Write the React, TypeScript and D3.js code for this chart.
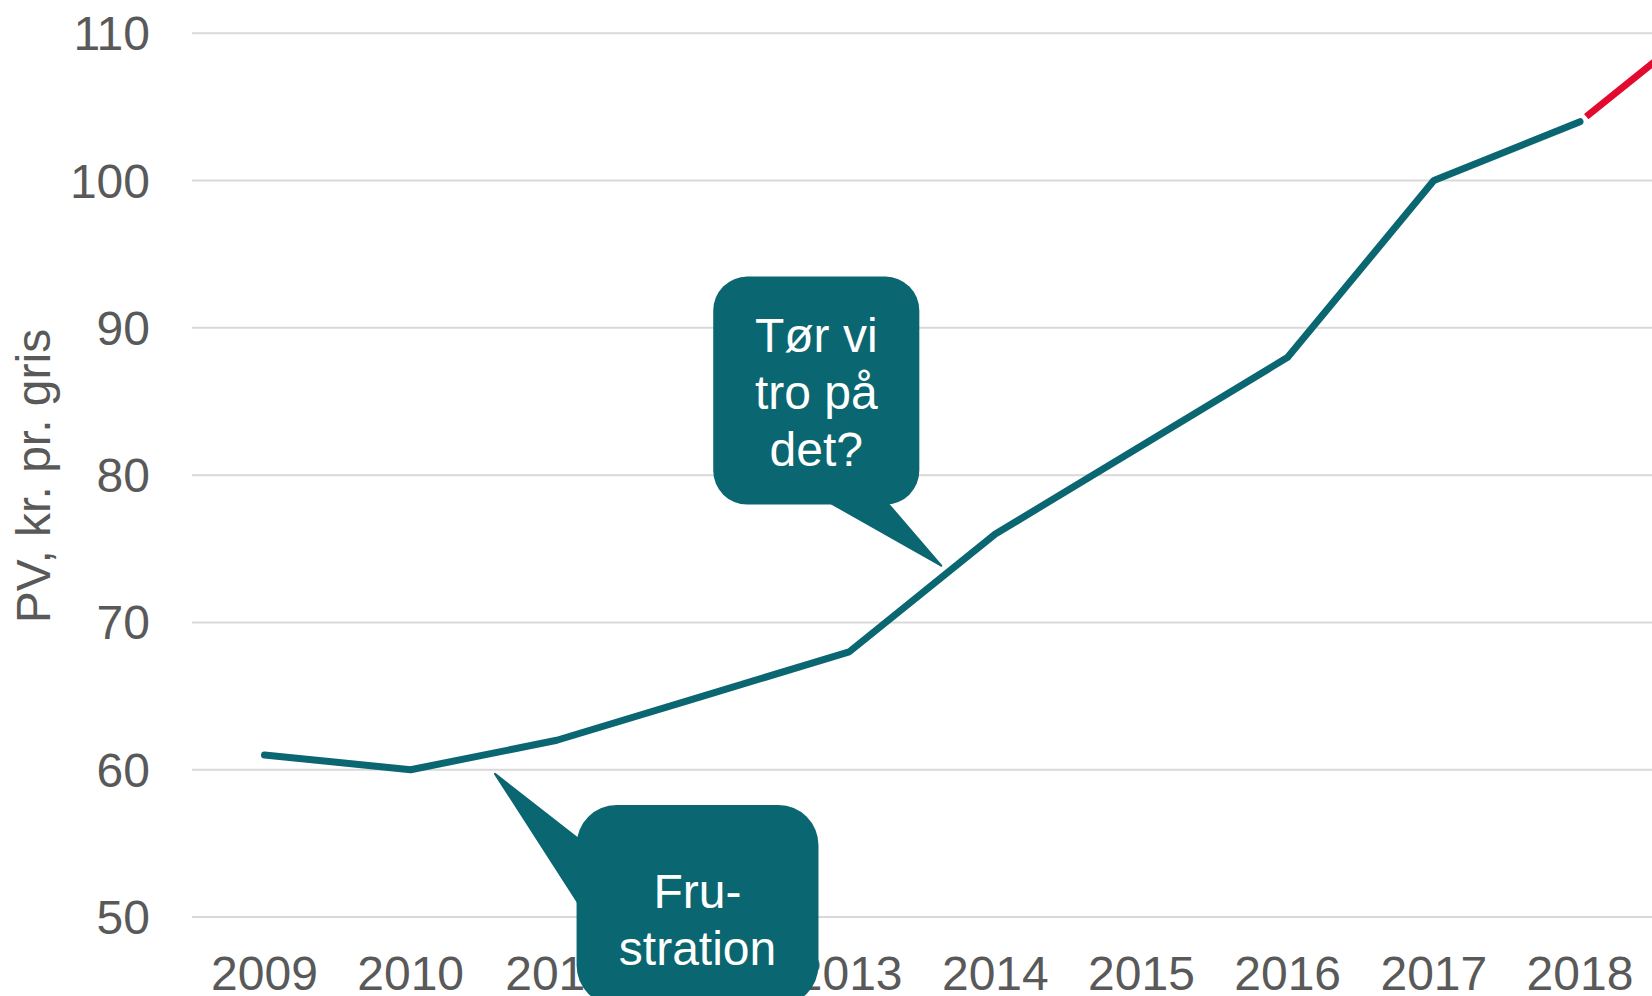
import React from "react";
import * as d3 from "d3";

const years = [2009, 2010, 2011, 2012, 2013, 2014, 2015, 2016, 2017, 2018];
const pvValues = [61, 60, 62, 65, 68, 76, 82, 88, 100, 104];
const forecastYears = [2018, 2019];
const forecastValues = [104, 112];
const yTicks = [50, 60, 70, 80, 90, 100, 110];
const yTitle = "PV, kr. pr. gris";
const callout1Lines = ["Tør vi", "tro på", "det?"];
const callout2Lines = ["Fru-", "stration"];

const W = 1652;
const H = 996;
const TEAL = "#0A6670";
const RED = "#E30A2F";
const GRAY = "#595959";
const FONT = "'Liberation Sans', Arial, Helvetica, sans-serif";
const FS = 48;

export default function App() {
  const x = d3.scaleLinear().domain([2009, 2018]).range([264.5, 1580]);
  const y = d3.scaleLinear().domain([50, 110]).range([917, 33.3]);

  const line = d3
    .line<[number, number]>()
    .x((d) => x(d[0]))
    .y((d) => y(d[1]));

  const mainPts: [number, number][] = years.map((yr, i) => [yr, pvValues[i]]);
  const fcPts: [number, number][] = forecastYears.map((yr, i) => [yr, forecastValues[i]]);

  // Callout 1 (pointing at the 2013-2014 segment)
  const c1 = { x0: x(2012.07), x1: x(2013.48), y0: y(93.48), y1: y(78) };
  const c1Tail = [
    [x(2012.88), c1.y1 - 1],
    [x(2013.63), y(73.85)],
    [x(2013.265), c1.y1 - 1],
  ];
  // Callout 2 (pointing at the 2010-2011 segment)
  const c2 = { x0: x(2011.135), x1: x(2012.79), y0: y(57.6), y1: y(44) };
  const c2Tail = [
    [c2.x0 + 1, y(55.35)],
    [x(2010.577), y(59.72)],
    [c2.x0 + 1, y(51.02)],
  ];

  return (
    <svg
      width={W}
      height={H}
      style={{ position: "absolute", left: 0, top: 0, display: "block", background: "#fff" }}
      fontFamily={FONT}
    >
      {/* gridlines */}
      {yTicks.map((t) => (
        <line key={t} x1={192} x2={W} y1={y(t)} y2={y(t)} stroke="#D9D9D9" strokeWidth={2} />
      ))}
      {/* y tick labels */}
      {yTicks.map((t) => (
        <text
          key={"yl" + t}
          x={150}
          y={y(t) + 17}
          textAnchor="end"
          fontSize={FS}
          fill={GRAY}
        >
          {t}
        </text>
      ))}
      {/* x tick labels */}
      {years.map((yr) => (
        <text key={"xl" + yr} x={x(yr)} y={990} textAnchor="middle" fontSize={FS} fill={GRAY}>
          {yr}
        </text>
      ))}
      {/* y title */}
      <text
        transform={`translate(50, ${476}) rotate(-90)`}
        textAnchor="middle"
        fontSize={FS}
        fill={GRAY}
      >
        {yTitle}
      </text>
      {/* main line */}
      <path
        d={line(mainPts) || ""}
        fill="none"
        stroke={TEAL}
        strokeWidth={7}
        strokeLinecap="round"
        strokeLinejoin="round"
      />
      {/* forecast line */}
      <path
        d={line(fcPts) || ""}
        fill="none"
        stroke={RED}
        strokeWidth={7}
        strokeDasharray="0 8 2000"
      />
      {/* callout 1 */}
      <g>
        <rect x={c1.x0} y={c1.y0} width={c1.x1 - c1.x0} height={c1.y1 - c1.y0} rx={34} ry={34} fill={TEAL} />
        <polygon points={c1Tail.map((p) => p.join(",")).join(" ")} fill={TEAL} strokeLinejoin="round" stroke={TEAL} strokeWidth={2} />
        {callout1Lines.map((s, i) => (
          <text
            key={s}
            x={(c1.x0 + c1.x1) / 2}
            y={352 + i * 57}
            textAnchor="middle"
            fontSize={FS}
            fill="#fff"
          >
            {s}
          </text>
        ))}
      </g>
      {/* callout 2 */}
      <g>
        <rect x={c2.x0} y={c2.y0} width={c2.x1 - c2.x0} height={c2.y1 - c2.y0} rx={40} ry={40} fill={TEAL} />
        <polygon points={c2Tail.map((p) => p.join(",")).join(" ")} fill={TEAL} strokeLinejoin="round" stroke={TEAL} strokeWidth={2} />
        {callout2Lines.map((s, i) => (
          <text
            key={s}
            x={(c2.x0 + c2.x1) / 2}
            y={908 + i * 57}
            textAnchor="middle"
            fontSize={FS}
            fill="#fff"
          >
            {s}
          </text>
        ))}
      </g>
    </svg>
  );
}
